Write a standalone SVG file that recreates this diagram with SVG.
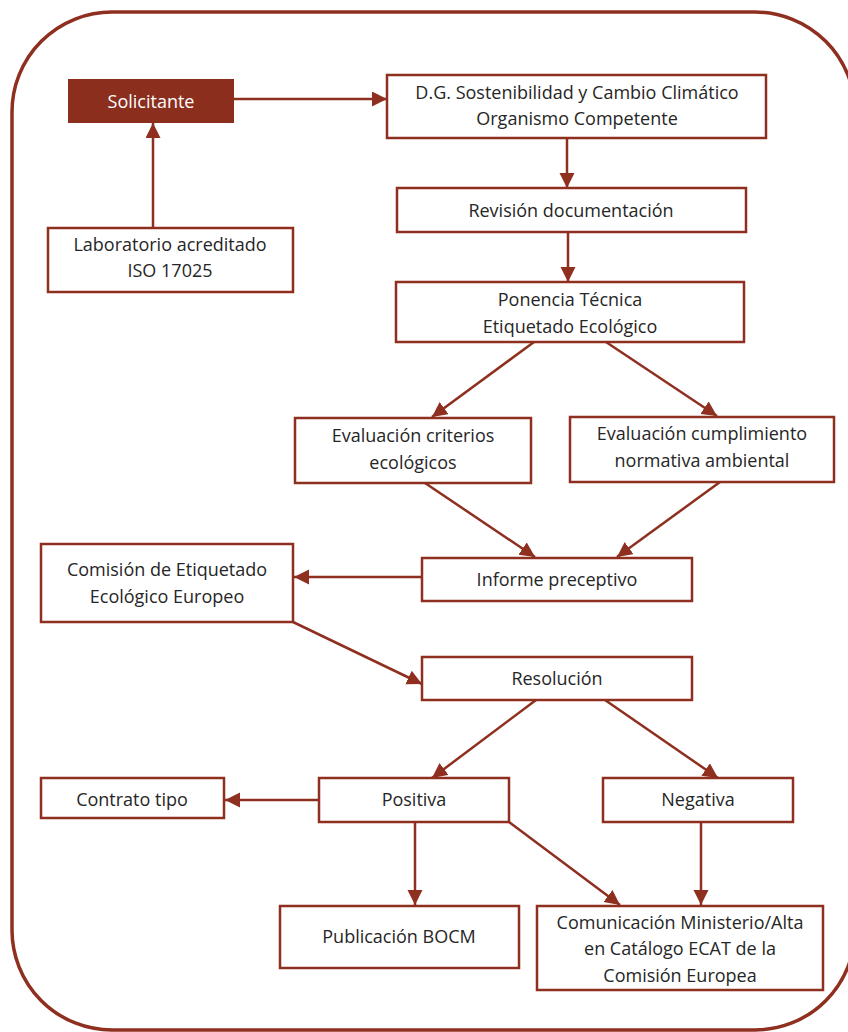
<svg xmlns="http://www.w3.org/2000/svg" width="848" height="1032" viewBox="0 0 848 1032">
<style>
.box{fill:#fff;stroke:#8E2F1F;stroke-width:2.5}
.t{font-family:"Open Sans","Noto Sans",sans-serif;font-size:18px;fill:#262626;text-anchor:middle}
.w{fill:#fff}
.c{stroke:#8E2F1F;stroke-width:2.5;fill:none;marker-end:url(#ah)}
</style>
<defs>
<marker id="ah" markerUnits="userSpaceOnUse" markerWidth="16" markerHeight="16" refX="15" refY="7.5" orient="auto">
<path d="M0,0 L15,7.5 L0,15 z" fill="#8E2F1F"/>
</marker>
</defs>
<rect x="12" y="12" width="843" height="1018" rx="100" ry="100" fill="none" stroke="#8E2F1F" stroke-width="3.5"/>
<g id="connectors">
<line class="c" x1="234" y1="99" x2="387" y2="99"/>
<line class="c" x1="153" y1="228" x2="153" y2="123"/>
<line class="c" x1="567" y1="138" x2="567" y2="188"/>
<line class="c" x1="568" y1="232" x2="568" y2="282"/>
<line class="c" x1="534" y1="342" x2="432" y2="417"/>
<line class="c" x1="606" y1="342" x2="717" y2="416"/>
<line class="c" x1="425" y1="483" x2="535" y2="557"/>
<line class="c" x1="720" y1="482" x2="617" y2="557"/>
<line class="c" x1="421" y1="577" x2="294" y2="577"/>
<line class="c" x1="293" y1="622" x2="422" y2="684"/>
<line class="c" x1="536" y1="700" x2="432" y2="778"/>
<line class="c" x1="605" y1="700" x2="718" y2="778"/>
<line class="c" x1="319" y1="800" x2="225" y2="800"/>
<line class="c" x1="415" y1="822" x2="415" y2="905"/>
<line class="c" x1="509" y1="822" x2="620" y2="905"/>
<line class="c" x1="701" y1="822" x2="701" y2="905"/>
</g>
<g id="solicitante">
<rect x="68" y="79" width="166" height="44" fill="#8B2E1E"/>
<text class="t w" x="151" y="108" font-size="19">Solicitante</text>
</g>
<g id="dg">
<rect class="box" x="387" y="75" width="379" height="63"/>
<text class="t" x="577" y="99">D.G. Sostenibilidad y Cambio Climático</text>
<text class="t" x="577" y="125">Organismo Competente</text>
</g>
<g id="laboratorio">
<rect class="box" x="48" y="228" width="245" height="64"/>
<text class="t" x="170" y="251">Laboratorio acreditado</text>
<text class="t" x="170" y="277">ISO 17025</text>
</g>
<g id="revision">
<rect class="box" x="397" y="188" width="349" height="44"/>
<text class="t" x="571" y="217">Revisión documentación</text>
</g>
<g id="ponencia">
<rect class="box" x="396" y="282" width="348" height="60"/>
<text class="t" x="570" y="306">Ponencia Técnica</text>
<text class="t" x="570" y="333">Etiquetado Ecológico</text>
</g>
<g id="criterios">
<rect class="box" x="295" y="418" width="236" height="65"/>
<text class="t" x="413" y="442">Evaluación criterios</text>
<text class="t" x="413" y="469">ecológicos</text>
</g>
<g id="cumplimiento">
<rect class="box" x="570" y="417" width="264" height="65"/>
<text class="t" x="702" y="440">Evaluación cumplimiento</text>
<text class="t" x="702" y="467">normativa ambiental</text>
</g>
<g id="informe">
<rect class="box" x="422" y="558" width="270" height="43"/>
<text class="t" x="557" y="586">Informe preceptivo</text>
</g>
<g id="comision">
<rect class="box" x="41" y="544" width="252" height="78"/>
<text class="t" x="167" y="576">Comisión de Etiquetado</text>
<text class="t" x="167" y="603">Ecológico Europeo</text>
</g>
<g id="resolucion">
<rect class="box" x="422" y="657" width="270" height="43"/>
<text class="t" x="557" y="685">Resolución</text>
</g>
<g id="contrato">
<rect class="box" x="41" y="778" width="183" height="40"/>
<text class="t" x="132" y="806">Contrato tipo</text>
</g>
<g id="positiva">
<rect class="box" x="319" y="778" width="190" height="44"/>
<text class="t" x="414" y="806">Positiva</text>
</g>
<g id="negativa">
<rect class="box" x="603" y="778" width="190" height="44"/>
<text class="t" x="698" y="806">Negativa</text>
</g>
<g id="publicacion">
<rect class="box" x="280" y="906" width="239" height="62"/>
<text class="t" x="399" y="943">Publicación BOCM</text>
</g>
<g id="comunicacion">
<rect class="box" x="537" y="906" width="286" height="84"/>
<text class="t" x="680" y="929">Comunicación Ministerio/Alta</text>
<text class="t" x="680" y="955">en Catálogo ECAT de la</text>
<text class="t" x="680" y="982">Comisión Europea</text>
</g>
</svg>
